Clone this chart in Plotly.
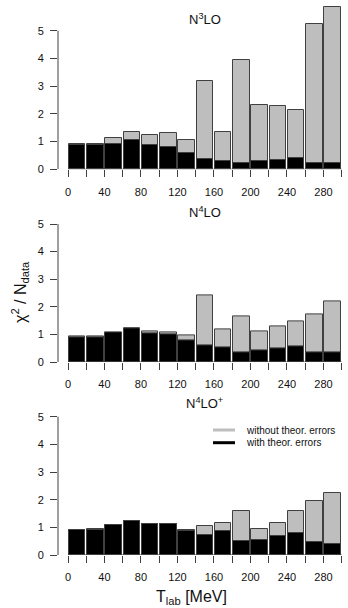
import plotly.graph_objects as go

# ---- data ----
tlab_bins = [10, 30, 50, 70, 90, 110, 130, 150, 170, 190, 210, 230, 250, 270, 290]
panel_titles = ["N<sup>3</sup>LO", "N<sup>4</sup>LO", "N<sup>4</sup>LO<sup>+</sup>"]

n3lo_without = [0.91, 0.91, 1.12, 1.36, 1.24, 1.32, 1.06, 3.20, 1.36, 3.95, 2.32, 2.30, 2.13, 5.26, 5.87]
n3lo_with    = [0.87, 0.88, 0.93, 1.06, 0.88, 0.82, 0.60, 0.36, 0.30, 0.24, 0.29, 0.34, 0.40, 0.24, 0.24]

n4lo_without = [0.91, 0.91, 1.04, 1.22, 1.12, 1.09, 0.97, 2.42, 1.18, 1.65, 1.10, 1.29, 1.46, 1.73, 2.20]
n4lo_with    = [0.90, 0.90, 1.07, 1.23, 1.05, 1.01, 0.80, 0.59, 0.52, 0.33, 0.41, 0.48, 0.57, 0.33, 0.33]

n4lop_without = [0.90, 0.93, 1.07, 1.22, 1.12, 1.13, 0.92, 1.06, 1.17, 1.58, 0.95, 1.17, 1.58, 1.95, 2.24]
n4lop_with    = [0.90, 0.92, 1.07, 1.22, 1.12, 1.13, 0.87, 0.71, 0.88, 0.51, 0.54, 0.70, 0.78, 0.47, 0.40]

x_label_step = 40
x_tick_step = 20
y_tickvals = [0, 1, 2, 3, 4, 5]

panels = [(n3lo_without, n3lo_with), (n4lo_without, n4lo_with), (n4lop_without, n4lop_with)]

# ---- layout geometry (pixels) ----
W, H = 348, 608
ML, MR = 58, 5
PW = W - ML - MR
px_per_unit = 273.7 / 300.0
x_lo = -(68 - ML) / px_per_unit
x_hi = 300 + (ML + PW - 341.7) / px_per_unit
panel_px = [(3, 169.3), (196.4, 362.0), (389.0, 555.0)]  # top, bottom (y=0) pixel rows
title_py = [19, 211.7, 403]

GRAY = "#bebebe"
EDGE = "#404040"
FONT = "Liberation Sans, Arial, sans-serif"

def py2paper(py):
    return 1 - py / H

def px2paper(px):
    return (px - ML) / PW

fig = go.Figure()
layout = dict(
    width=W, height=H,
    margin=dict(l=ML, r=MR, t=0, b=0, autoexpand=False),
    paper_bgcolor="white", plot_bgcolor="white",
    barmode="overlay", bargap=0, showlegend=False,
    font=dict(family=FONT, size=11, color="#111"),
)
shapes = []
annotations = []

for i, (wo, wi) in enumerate(panels):
    k = "" if i == 0 else str(i + 1)
    xa, ya = "x" + k, "y" + k
    fig.add_trace(go.Bar(x=tlab_bins, y=wo, width=18, xaxis=xa, yaxis=ya,
                         marker=dict(color=GRAY, line=dict(color=EDGE, width=1)),
                         name="without theor. errors"))
    fig.add_trace(go.Bar(x=tlab_bins, y=wi, width=18, xaxis=xa, yaxis=ya,
                         marker=dict(color="black", line=dict(color=EDGE, width=1)),
                         name="with theor. errors"))
    top, bot = panel_px[i]
    layout["xaxis" + k] = dict(
        domain=[0, 1], range=[x_lo, x_hi], anchor=ya, showgrid=False, zeroline=False,
        showline=False, ticks="outside", ticklen=7, tickwidth=1, tickcolor=EDGE,
        tickmode="linear", tick0=0, dtick=x_label_step, ticklabelstandoff=5,
        minor=dict(ticks="outside", ticklen=7, tickwidth=1, tickcolor=EDGE,
                   tickmode="linear", tick0=0, dtick=x_tick_step, showgrid=False),
        tickfont=dict(size=11, color="#111"), fixedrange=True,
    )
    layout["yaxis" + k] = dict(
        domain=[py2paper(bot), py2paper(top)], range=[0, 6], anchor=xa, showgrid=False,
        zeroline=False, showline=False, ticks="outside", ticklen=7, tickwidth=1,
        tickcolor=EDGE, tickvals=y_tickvals, ticklabelstandoff=4,
        tickfont=dict(size=11, color="#111"), fixedrange=True,
    )
    # R-style detached axis lines
    shapes.append(dict(type="line", xref=xa, yref=ya, x0=0, x1=300, y0=0, y1=0,
                       line=dict(color=EDGE, width=1)))
    shapes.append(dict(type="line", xref="paper", yref=ya, x0=0, x1=0, y0=0, y1=5,
                       line=dict(color=EDGE, width=1)))
    annotations.append(dict(text=panel_titles[i], xref=xa, yref="paper", x=150,
                            y=py2paper(title_py[i]), showarrow=False,
                            font=dict(size=13, color="#111"), xanchor="center", yanchor="middle"))

# axis titles
annotations.append(dict(text="χ<sup>2</sup> / N<sub>data</sub>", xref="paper", yref="paper",
                        x=px2paper(20), y=py2paper(292), textangle=-90, showarrow=False,
                        font=dict(size=16, color="#111"), xanchor="center", yanchor="middle"))
annotations.append(dict(text="T<sub>lab</sub> [MeV]", xref="paper", yref="paper",
                        x=px2paper(191), y=py2paper(597), showarrow=False,
                        font=dict(size=16, color="#111"), xanchor="center", yanchor="middle"))

# legend (panel 3)
legend_items = [("without theor. errors", GRAY, 430), ("with theor. errors", "black", 442.7)]
for label, col, py in legend_items:
    shapes.append(dict(type="line", xref="paper", yref="paper",
                       x0=px2paper(213), x1=px2paper(235), y0=py2paper(py), y1=py2paper(py),
                       line=dict(color=col, width=3)))
    annotations.append(dict(text=label, xref="paper", yref="paper", x=px2paper(244),
                            y=py2paper(py), showarrow=False, xanchor="left", yanchor="middle",
                            font=dict(size=10, color="#111")))

layout["shapes"] = shapes
layout["annotations"] = annotations
fig.update_layout(**layout)
fig.write_html("out.html")
